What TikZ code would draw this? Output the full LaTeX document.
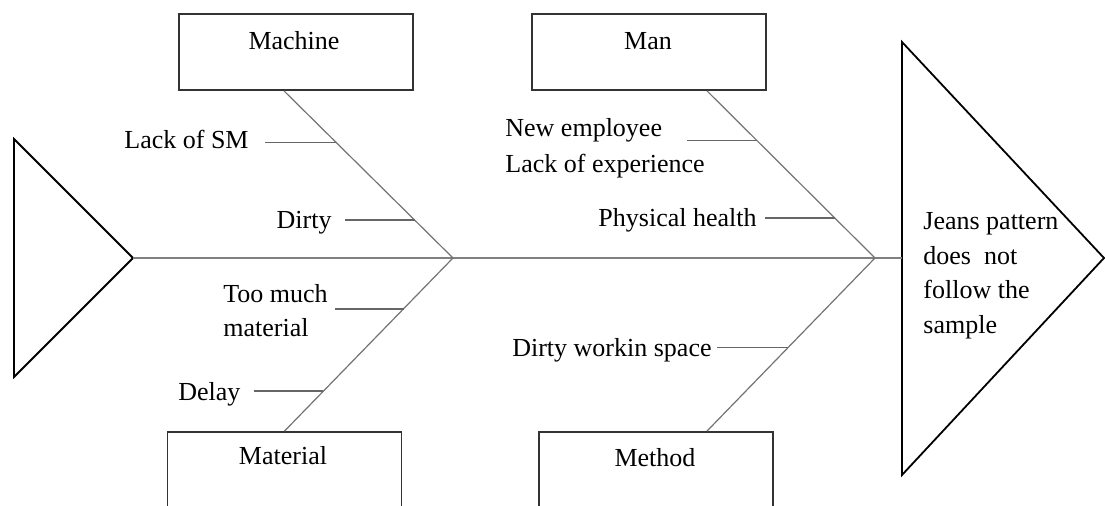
\documentclass[tikz,border=0pt]{standalone}
\usepackage{fontspec}
\setmainfont{Liberation Serif}
\usetikzlibrary{calc}
\begin{document}
\begin{tikzpicture}[x=0.5pt,y=-0.5pt,
  catbox/.style={draw=black!80,line width=0.9pt,rectangle,inner sep=0pt,
                 minimum width=117pt,minimum height=38pt},
  lowbox/.style={catbox,minimum height=44pt},
  headtri/.style={draw=black,line width=0.9pt,line join=miter},
  spine/.style={draw=black!50,line width=1.1pt},
  bone/.style={draw=black!55,line width=0.6pt},
  twig/.style={draw=black!60,line width=0.8pt},
  lbl/.style={inner sep=0pt,font=\fontsize{13}{17.5}\selectfont},
]
\clip (0,0) rectangle (1105,506);

% category boxes
\node[catbox] (machine)  at (296,52)    {};
\node[catbox] (man)      at (649,52)    {};
\node[lowbox] (material) at (284.5,476) {};
\node[lowbox] (method)   at (656,476)   {};

\node[lbl,anchor=base] (machinet)  at (294,50)  {Machine};
\node[lbl,anchor=base] (mant)      at (648,50)  {Man};
\node[lbl,anchor=base] (materialt) at (283,465) {Material};
\node[lbl,anchor=base] (methodt)   at (655,467) {Method};

% tail and head of the fish
\coordinate (tail) at (133,258);
\coordinate (head) at (902,258);
\draw[headtri] (14,139) -- (tail) -- (14,377) -- cycle;
\draw[headtri] (902,42) -- (1104,258) -- (902,475) -- cycle;
\draw[spine] (tail) -- (head);

\node[lbl,anchor=base west] (effect1) at (923,230) {Jeans pattern};
\node[lbl,anchor=base west] (effect2) at (923,265) {does\ \ not};
\node[lbl,anchor=base west] (effect3) at (923,299) {follow the};
\node[lbl,anchor=base west] (effect4) at (923,334) {sample};

% main bones
\coordinate (j1) at (453,258);
\coordinate (j2) at (875,258);
\coordinate (mtop) at ([xshift=-6pt]machine.south);
\coordinate (ntop) at ([xshift=29pt]man.south);
\coordinate (atop) at (material.north);
\coordinate (dtop) at ([xshift=25.5pt]method.north);
\draw[bone] (mtop) -- (j1);
\draw[bone] (ntop) -- (j2);
\draw[bone] (atop) -- (j1);
\draw[bone] (dtop) -- (j2);

% causes
\draw[twig] ($(mtop)!0.3095!(j1)$) coordinate (c1) -- ++(-71,0);
\draw[twig] ($(mtop)!0.774!(j1)$)  coordinate (c2) -- ++(-70,0);
\draw[twig] ($(ntop)!0.298!(j2)$)  coordinate (c3) -- ++(-70,0);
\draw[twig] ($(ntop)!0.762!(j2)$)  coordinate (c4) -- ++(-70,0);
\draw[twig] ($(atop)!0.707!(j1)$)  coordinate (c5) -- ++(-69,0);
\draw[twig] ($(atop)!0.230!(j1)$)  coordinate (c6) -- ++(-69,0);
\draw[twig] ($(dtop)!0.483!(j2)$)  coordinate (c7) -- ++(-71,0);

\node[lbl,anchor=base east] (lacksm)   at (249,149) {Lack of SM};
\node[lbl,anchor=base east] (dirty)    at (332,229) {Dirty};
\node[lbl,anchor=base west] (newemp)   at (505,137) {New employee};
\node[lbl,anchor=base west] (lackexp)  at (505,173) {Lack of experience};
\node[lbl,anchor=base east] (physical) at (757,227) {Physical health};
\node[lbl,anchor=base west] (toomuch)  at (223,303) {Too much};
\node[lbl,anchor=base west] (toomuchb) at (223,337) {material};
\node[lbl,anchor=base west] (delay)    at (178,401) {Delay};
\node[lbl,anchor=base east] (dirtyws)  at (712,357) {Dirty workin space};
\end{tikzpicture}
\end{document}
